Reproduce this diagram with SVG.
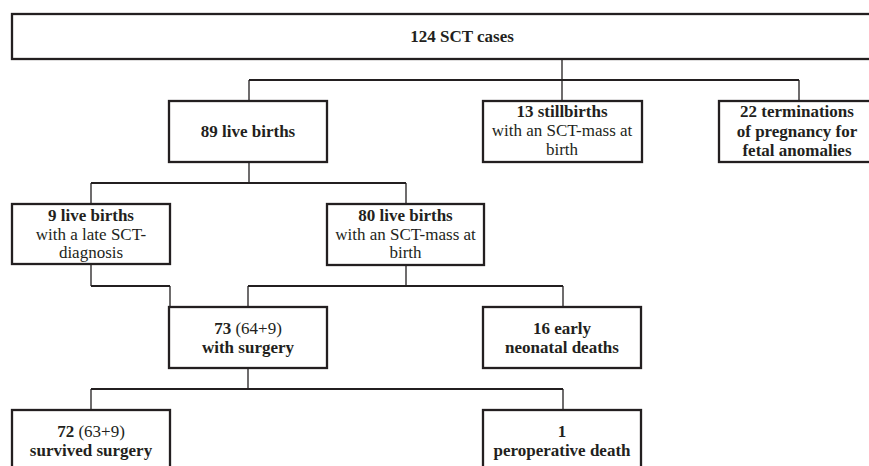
<svg xmlns="http://www.w3.org/2000/svg" width="869" height="466" viewBox="0 0 869 466">
<style>
.box{fill:#fff;stroke:#231f20;stroke-width:2.3}
.h{stroke:#231f20;stroke-width:2;fill:none}
.v{stroke:#231f20;stroke-width:1.3;fill:none}
text{font-family:"Liberation Serif","Times New Roman",serif;font-size:17px;fill:#231f20;text-anchor:middle}
.b{font-weight:bold}
</style>
<rect width="869" height="466" fill="#fff"/>
<g id="connectors">
<path class="v" d="M562 59V80M249 80V101M562 80V101M799 80V101M249 162V183M91 183V204M406 183V204M91 264V286M170 286V307M406 265V286M248 286V307M563 286V307M248 368V389M91 389V410M563 389V410"/>
<path class="h" d="M249 80H799M91 183H406M91 286H170M248 286H563M91 389H563"/>
</g>
<g id="n-total"><rect class="box" x="12" y="14" width="900" height="45"/><text class="b" x="462" y="42">124 SCT cases</text></g>
<g id="n-live89"><rect class="box" x="169" y="101" width="158" height="61"/><text class="b" x="248" y="137">89 live births</text></g>
<g id="n-still13"><rect class="box" x="483" y="101" width="159" height="61"/><text x="562" y="117"><tspan class="b">13 stillbirths</tspan></text><text x="562" y="136">with an SCT-mass at</text><text x="562" y="155">birth</text></g>
<g id="n-term22"><rect class="box" x="719" y="101" width="156" height="61"/><text class="b" x="797" y="117">22 terminations</text><text class="b" x="797" y="137">of pregnancy for</text><text class="b" x="797" y="156">fetal anomalies</text></g>
<g id="n-late9"><rect class="box" x="12" y="204" width="158" height="60"/><text class="b" x="91" y="221">9 live births</text><text x="91" y="240">with a late SCT-</text><text x="91" y="258">diagnosis</text></g>
<g id="n-live80"><rect class="box" x="327" y="204" width="157" height="61"/><text class="b" x="405.5" y="221">80 live births</text><text x="405.5" y="240">with an SCT-mass at</text><text x="405.5" y="258">birth</text></g>
<g id="n-surg73"><rect class="box" x="169" y="307" width="158" height="61"/><text x="248" y="334"><tspan class="b">73</tspan> (64+9)</text><text class="b" x="248" y="353">with surgery</text></g>
<g id="n-death16"><rect class="box" x="483" y="307" width="158" height="61"/><text class="b" x="562" y="334">16 early</text><text class="b" x="562" y="353">neonatal deaths</text></g>
<g id="n-surv72"><rect class="box" x="12" y="410" width="158" height="70"/><text x="91" y="437"><tspan class="b">72</tspan> (63+9)</text><text class="b" x="91" y="456">survived surgery</text></g>
<g id="n-pero1"><rect class="box" x="483" y="410" width="158" height="70"/><text class="b" x="562" y="437">1</text><text class="b" x="562" y="456">peroperative death</text></g>
</svg>
